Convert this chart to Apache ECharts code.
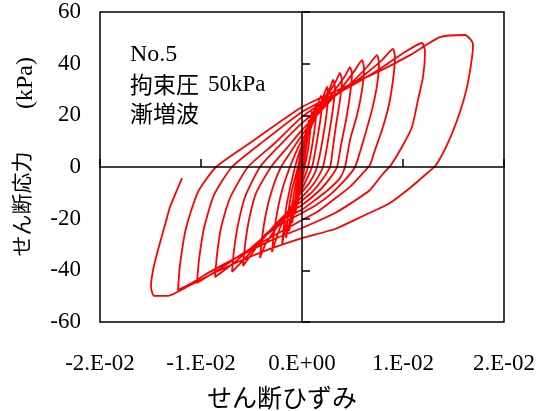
<!DOCTYPE html>
<html>
<head>
<meta charset="utf-8">
<script src="https://cdn.jsdelivr.net/npm/echarts@6/dist/echarts.min.js"></script>
<style>
  html, body { margin: 0; padding: 0; background: #fff; }
  #chart { width: 538px; height: 411px; }
</style>
</head>
<body>
<div id="chart"></div>
<script>
// tick labels
const xTickLabels = ['-2.E-02', '-1.E-02', '0.E+00', '1.E-02', '2.E-02']
const yTickLabels = ['-60', '-40', '-20', '0', '20', '40', '60']

// せん断ひずみ, せん断応力(kPa) -- one array per cycle
const cycle1 = [[0, 0], [0.0002, 7.0], [0.0004, 13.9], [0.0003, 8.0], [0, -2.0], [-0.0002, -8.0], [-0.0004, -13.9]]
const cycle2 = [[-0.0004, -13.9], [-0.0002, -5.0], [0, 1.9], [0.0003, 10.4], [0.00069, 18.2], [0.00059, 12.4], [0.0003, 4.6], [0, -3.5], [-0.0003, -10.8], [-0.00069, -18.2]]
const cycle3 = [[-0.00069, -18.2], [-0.0004, -8.9], [0, 3.5], [0.0005, 12.4], [0.00099, 21.3], [0.00089, 16.3], [0.00059, 6.6], [0, -5.0], [-0.0005, -12.8], [-0.00099, -21.7]]
const cycle4 = [[-0.00099, -21.7], [-0.00069, -12.8], [-0.0002, 0], [0, 4.6], [0.00069, 14.3], [0.00139, 24.4], [0.00139, 20.1], [0.00109, 10.4], [0.00059, 0], [0, -6.6], [-0.00069, -14.7], [-0.00129, -24.8]]
const cycle5 = [[-0.00129, -24.8], [-0.00099, -14.7], [-0.0003, 0], [0, 5.8], [0.00099, 16.3], [0.00188, 27.5], [0.00198, 24.0], [0.00158, 12.4], [0.00099, 0], [0, -8.5], [-0.00089, -16.6], [-0.00158, -27.5]]
const cycle6 = [[-0.00158, -27.5], [-0.00139, -18.6], [-0.00099, -8.9], [-0.0004, 0], [0, 7.4], [0.00099, 16.3], [0.00198, 25.9], [0.00248, 31.0], [0.00257, 27.5], [0.00228, 16.3], [0.00149, 0], [0.00079, -5.8], [0, -9.7], [-0.00099, -14.7], [-0.00158, -22.4], [-0.00198, -30.2]]
const cycle7 = [[-0.00198, -30.2], [-0.00178, -22.4], [-0.00149, -13.9], [-0.00069, 0], [0, 8.5], [0.00099, 16.3], [0.00198, 24.8], [0.00277, 30.6], [0.00307, 33.7], [0.00327, 30.6], [0.00307, 22.8], [0.00267, 12.4], [0.00208, 0], [0.00129, -5.8], [0, -11.6], [-0.00119, -15.9], [-0.00218, -23.6], [-0.00297, -32.9]]
const cycle8 = [[-0.00297, -32.9], [-0.00277, -25.2], [-0.00238, -15.9], [-0.00188, -7.7], [-0.00119, 0], [-0.00059, 5.8], [0, 10.4], [0.00119, 18.2], [0.00238, 26.7], [0.00337, 33.3], [0.00376, 36.4], [0.00396, 33.7], [0.00376, 25.9], [0.00337, 16.3], [0.00307, 7.7], [0.00277, 0], [0.00198, -5.0], [0.00099, -9.7], [0, -13.0], [-0.00139, -17.4], [-0.00267, -24.4], [-0.00366, -30.2], [-0.00416, -35.2]]
const cycle9 = [[-0.00416, -35.2], [-0.00396, -27.5], [-0.00356, -17.8], [-0.00297, -8.9], [-0.00208, 0], [-0.00099, 6.6], [0, 12.4], [0.00139, 19.7], [0.00297, 28.3], [0.00426, 35.2], [0.00475, 38.7], [0.00495, 36.0], [0.00475, 27.9], [0.00436, 18.2], [0.00386, 8.5], [0.00347, 0], [0.00277, -4.3], [0.00178, -8.9], [0, -14.7], [-0.00168, -18.6], [-0.00337, -25.5], [-0.00485, -32.9], [-0.00584, -38.3]]
const cycle10 = [[-0.00584, -38.3], [-0.00564, -30.2], [-0.00525, -20.5], [-0.00455, -10.1], [-0.00307, 0], [-0.00149, 7.4], [0, 14.3], [0.00178, 21.3], [0.00376, 29.8], [0.00525, 37.5], [0.00594, 41.4], [0.00614, 38.3], [0.00594, 29.8], [0.00545, 20.1], [0.00475, 10.4], [0.00426, 0], [0.00376, -4.3], [0.00257, -8.9], [0.00129, -12.8], [0, -16.5], [-0.00168, -19.7], [-0.00366, -26.3], [-0.00535, -34.1], [-0.00693, -40.6]]
const cycle11 = [[-0.00693, -40.6], [-0.00673, -32.1], [-0.00634, -22.4], [-0.00564, -11.6], [-0.00416, 0], [-0.00218, 8.5], [0, 17.0], [0.00228, 24.4], [0.00475, 32.1], [0.00653, 39.1], [0.00743, 43.3], [0.00762, 40.2], [0.00743, 31.7], [0.00693, 22.1], [0.00624, 12.4], [0.00574, 5.8], [0.00525, 0], [0.00426, -5.0], [0.00277, -10.8], [0.00139, -14.7], [0, -17.8], [-0.00218, -22.4], [-0.00436, -29.0], [-0.00663, -36.8], [-0.00861, -42.6]]
const cycle12 = [[-0.00861, -42.6], [-0.00842, -34.1], [-0.00802, -23.6], [-0.00713, -12.0], [-0.00535, 0], [-0.00267, 9.3], [0, 19.4], [0.00277, 26.7], [0.00574, 34.4], [0.00792, 41.4], [0.00901, 45.7], [0.00921, 42.2], [0.00901, 33.7], [0.00861, 24.0], [0.00792, 14.3], [0.00723, 6.6], [0.00673, 0.8], [0.00604, -2.3], [0.00475, -7.7], [0.00307, -12.8], [0.00149, -17.4], [0, -20.5], [-0.00267, -26.3], [-0.00564, -32.9], [-0.00832, -39.9], [-0.0104, -44.9]]
const cycle13 = [[-0.0104, -44.9], [-0.0102, -36.0], [-0.0097, -23.6], [-0.00871, -10.8], [-0.00693, 0], [-0.00366, 10.4], [0, 21.3], [0.00376, 29.0], [0.00723, 36.8], [0.0102, 44.5], [0.01188, 48.0], [0.01218, 44.5], [0.01198, 34.8], [0.01148, 25.9], [0.01089, 15.5], [0.01, 8.5], [0.00881, 0.8], [0.00792, -3.1], [0.00673, -8.9], [0.00505, -13.5], [0.00327, -17.8], [0, -23.6], [-0.00317, -28.6], [-0.00614, -34.4], [-0.00911, -40.6], [-0.01109, -45.3], [-0.01228, -47.6]]
const cycle14 = [[-0.01228, -47.6], [-0.01208, -37.9], [-0.01148, -23.6], [-0.0103, -9.7], [-0.00851, 0], [-0.00515, 9.3], [0, 23.2], [0.00376, 30.2], [0.00772, 37.2], [0.01069, 43.3], [0.01366, 50.3], [0.01614, 51.1], [0.01693, 47.6], [0.01683, 42.2], [0.01634, 31.0], [0.01564, 21.3], [0.01445, 9.3], [0.01327, 0.8], [0.01218, -3.1], [0.01069, -8.1], [0.00871, -13.9], [0.00624, -18.6], [0.00327, -24.0], [0, -27.5], [-0.00317, -31.7], [-0.00614, -36.4], [-0.00911, -41.8], [-0.01158, -46.8], [-0.01327, -49.9], [-0.01465, -49.9], [-0.01495, -46.4]]
const lastReload = [[-0.01495, -46.4], [-0.01475, -39.9], [-0.01426, -32.1], [-0.01356, -22.4], [-0.01307, -15.5], [-0.01238, -8.9], [-0.01188, -4.3]]

const cycles = [cycle1, cycle2, cycle3, cycle4, cycle5, cycle6, cycle7, cycle8, cycle9, cycle10, cycle11, cycle12, cycle13, cycle14, lastReload]
const path = []
cycles.forEach((c, i) => {
  c.forEach((p, j) => {
    if (i > 0 && j === 0) return // shared with previous cycle
    path.push(p)
  })
})

const SERIF = '"Liberation Serif", "Times New Roman", serif'
const GOTHIC = '"Noto Sans CJK JP", sans-serif'

const chart = echarts.init(document.getElementById('chart'))

const option = {
  animation: false,
  backgroundColor: '#fff',
  grid: {
    left: 100,
    top: 12,
    width: 404,
    height: 310,
    show: true,
    borderColor: '#000',
    borderWidth: 1.5,
    outerBoundsMode: 'none'
  },
  xAxis: [
    {
      type: 'value',
      min: -0.02,
      max: 0.02,
      interval: 0.01,
      position: 'bottom',
      axisLine: { show: false, onZero: false },
      axisTick: { show: false },
      splitLine: { show: false },
      axisLabel: {
        margin: 30,
        color: '#000',
        fontFamily: SERIF,
        fontSize: 23,
        formatter: v => xTickLabels[Math.round(v * 100) + 2]
      }
    },
    {
      type: 'value',
      min: -0.02,
      max: 0.02,
      interval: 0.01,
      position: 'bottom',
      z: 5,
      axisLine: { show: true, onZero: true, onZeroAxisIndex: 0, lineStyle: { color: '#000', width: 1.5 } },
      axisTick: { show: true, inside: true, length: 8, lineStyle: { color: '#000', width: 1.5 } },
      splitLine: { show: false },
      axisLabel: { show: false }
    }
  ],
  yAxis: [
    {
      type: 'value',
      min: -60,
      max: 60,
      interval: 20,
      position: 'left',
      axisLine: { show: false, onZero: false },
      axisTick: { show: false },
      splitLine: { show: false },
      axisLabel: {
        margin: 19,
        color: '#000',
        fontFamily: SERIF,
        fontSize: 23,
        formatter: v => yTickLabels[Math.round(v / 20) + 3]
      }
    },
    {
      type: 'value',
      min: -60,
      max: 60,
      interval: 20,
      position: 'left',
      z: 5,
      axisLine: { show: true, onZero: true, onZeroAxisIndex: 0, lineStyle: { color: '#000', width: 1.5 } },
      axisTick: { show: true, inside: true, length: 8, lineStyle: { color: '#000', width: 1.5 } },
      splitLine: { show: false },
      axisLabel: { show: false }
    }
  ],
  graphic: [
    { type: 'text', x: 130, y: 55, style: { text: 'No.5', font: '24px ' + SERIF, fill: '#000', textVerticalAlign: 'middle' } },
    { type: 'text', x: 130, y: 84, style: { text: '拘束圧', font: '23px ' + GOTHIC, fill: '#000', textVerticalAlign: 'middle' } },
    { type: 'text', x: 208, y: 85, style: { text: '50kPa', font: '23px ' + SERIF, fill: '#000', textVerticalAlign: 'middle' } },
    { type: 'text', x: 130, y: 113, style: { text: '漸増波', font: '23px ' + GOTHIC, fill: '#000', textVerticalAlign: 'middle' } },
    { type: 'text', x: 282, y: 397, style: { text: 'せん断ひずみ', font: '25px ' + GOTHIC, fill: '#000', textAlign: 'center', textVerticalAlign: 'middle' } },
    { type: 'text', x: 21, y: 204, rotation: Math.PI / 2, style: { text: 'せん断応力', font: '21px ' + GOTHIC, fill: '#000', textAlign: 'center', textVerticalAlign: 'middle' } },
    { type: 'text', x: 26, y: 83, rotation: Math.PI / 2, style: { text: '(kPa)', font: '24px ' + SERIF, fill: '#000', textAlign: 'center', textVerticalAlign: 'middle' } }
  ],
  series: [
    {
      type: 'line',
      xAxisIndex: 0,
      yAxisIndex: 0,
      data: path,
      showSymbol: false,
      smooth: 0.2,
      z: 2,
      lineStyle: { color: '#ff0000', width: 1.8 }
    }
  ]
}

chart.setOption(option)
</script>
</body>
</html>
